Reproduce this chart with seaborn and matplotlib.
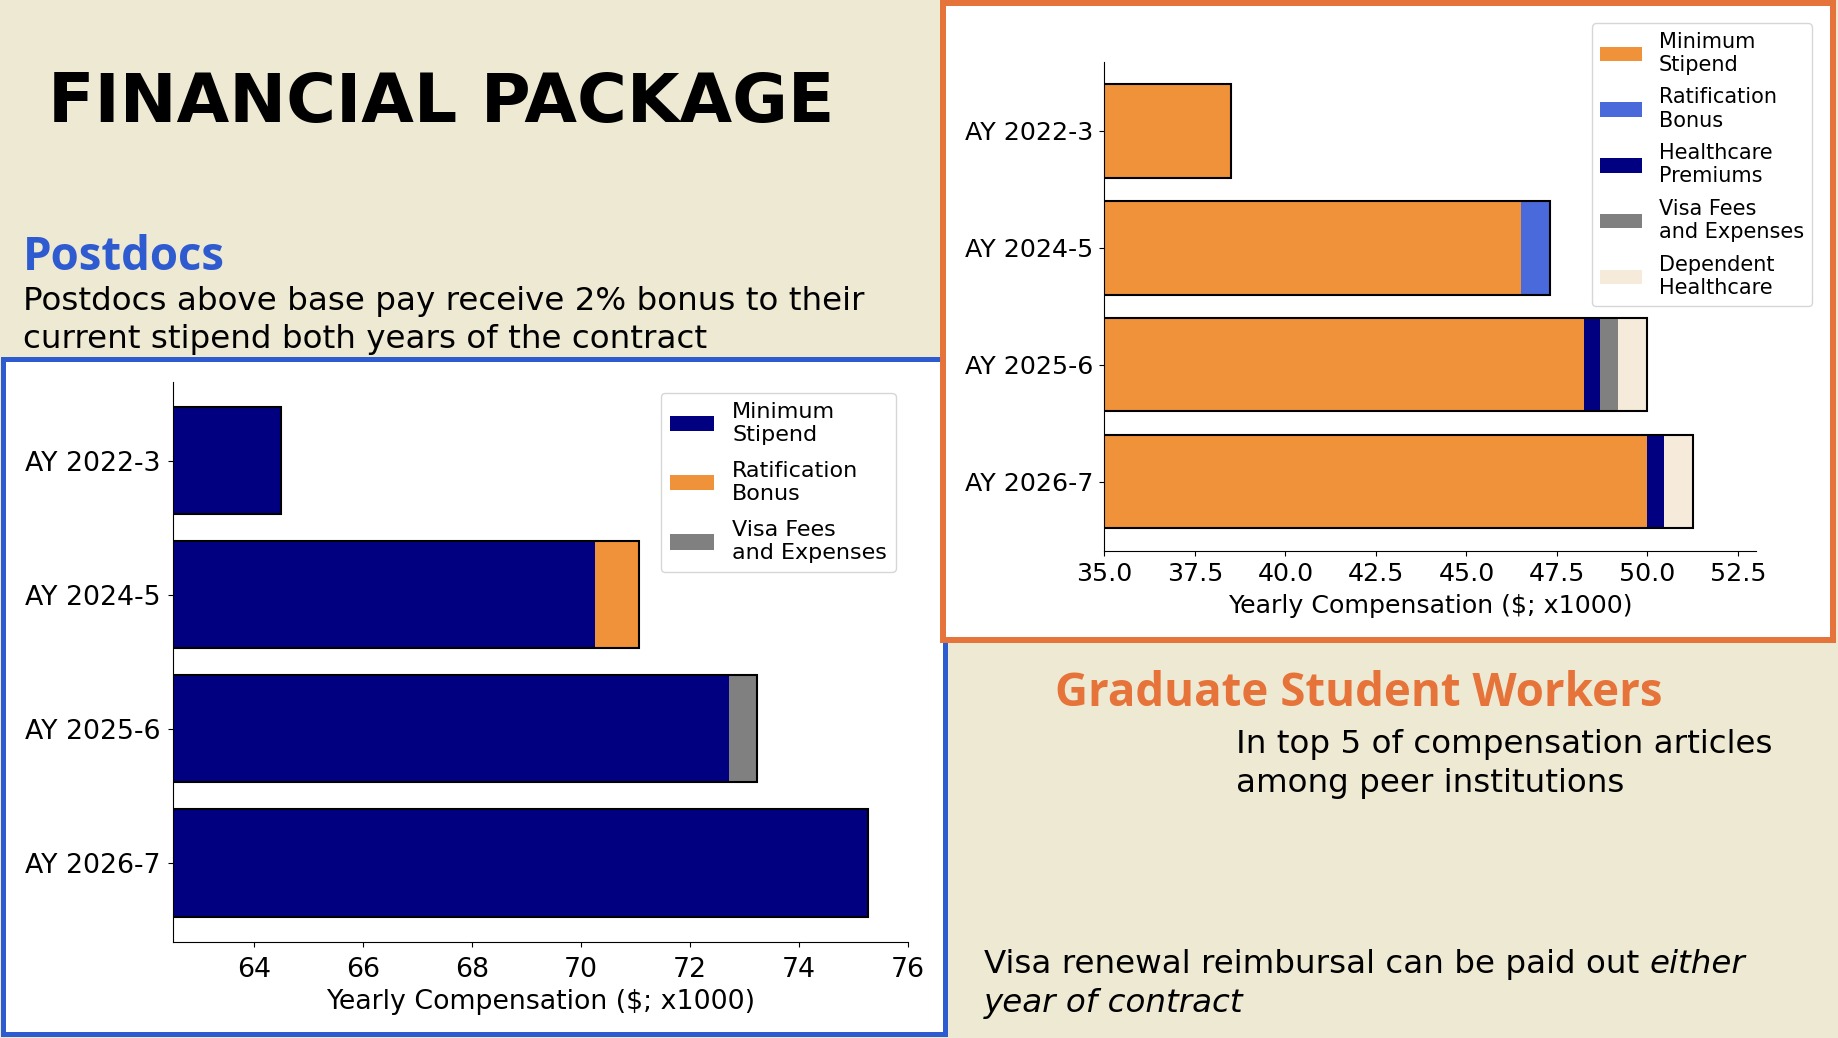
import matplotlib
matplotlib.use('Agg')
import matplotlib.pyplot as plt
from matplotlib.patches import Patch, Rectangle
from matplotlib.ticker import MultipleLocator
import seaborn as sns
import pandas as pd


years = ['AY 2022-3', 'AY 2024-5', 'AY 2025-6', 'AY 2026-7']

# postdocs ($ x1000)
postdoc_labels = ['Minimum\nStipend', 'Ratification\nBonus', 'Visa Fees\nand Expenses']
postdoc_stipend = [64.48, 70.26, 72.72, 75.27]
postdoc_bonus = [0.0, 0.81, 0.0, 0.0]
postdoc_visa = [0.0, 0.0, 0.51, 0.0]

# graduate student workers ($ x1000)
grad_labels = ['Minimum\nStipend', 'Ratification\nBonus', 'Healthcare\nPremiums',
               'Visa Fees\nand Expenses', 'Dependent\nHealthcare']
grad_stipend = [38.5, 46.5, 48.26, 50.0]
grad_bonus = [0.0, 0.82, 0.0, 0.0]
grad_health = [0.0, 0.0, 0.42, 0.45]
grad_visa = [0.0, 0.0, 0.5, 0.0]
grad_dependent = [0.0, 0.0, 0.82, 0.8]

NAVY = '#000080'
ORANGE = '#F0923A'
GRAY = '#808080'
BLUE = '#4A69DA'
CREAM = '#F6EBDA'
BG = '#EEE9D3'
BLUE_EDGE = '#2E5BCF'
ORANGE_EDGE = '#E5733A'

W, H = 1838, 1038


def fx(x):
    return x / W


def fy(y):
    return 1 - y / H


def stacked_bars(ax, parts, labels, colors, tick_fs, legend_fs, anchor, spacing):
    df = pd.DataFrame(dict(zip(labels, parts)), index=years)
    cum = df.cumsum(axis=1)
    # draw the running totals from the longest to the shortest so they stack
    for lab, col in reversed(list(zip(labels, colors))):
        sns.barplot(x=cum[lab].values, y=years, orient='h', color=col, saturation=1,
                    width=0.8, linewidth=0, errorbar=None, ax=ax)
    sns.barplot(x=cum[labels[-1]].values, y=years, orient='h', fill=False, color='black',
                width=0.8, linewidth=1.5, errorbar=None, ax=ax)
    ax.set_ylim(3.59, -0.59)
    ax.set_ylabel('')
    ax.tick_params(labelsize=tick_fs)
    sns.despine(ax=ax)
    handles = [Patch(facecolor=c, linewidth=0, label=l) for l, c in zip(labels, colors)]
    ax.legend(handles=handles, loc='upper right', bbox_to_anchor=anchor, borderaxespad=0,
              fontsize=legend_fs, labelspacing=spacing)


fig = plt.figure(figsize=(W / 100, H / 100), dpi=100, facecolor=BG)
renderer = fig.canvas.get_renderer()


def fitted_size(text, target_px, **kw):
    # font size that makes `text` come out target_px wide
    t = fig.text(0, 0, text, fontsize=20, **kw)
    w = t.get_window_extent(renderer).width
    t.remove()
    return 20 * target_px / w


# slide panels
fig.add_artist(Rectangle((fx(2.5), fy(1033.5)), (944.5 - 2.5) / W, (1033.5 - 358.5) / H,
                         transform=fig.transFigure, facecolor='white', edgecolor=BLUE_EDGE,
                         linewidth=3.6, zorder=-1))
fig.add_artist(Rectangle((fx(943), fy(640)), (1833 - 943) / W, (640 - 3) / H,
                         transform=fig.transFigure, facecolor='white', edgecolor=ORANGE_EDGE,
                         linewidth=4.3, zorder=-0.5))

ax1 = fig.add_axes([0.0940, 0.0925, 0.3998, 0.5399])
stacked_bars(ax1, [postdoc_stipend, postdoc_bonus, postdoc_visa], postdoc_labels,
             [NAVY, ORANGE, GRAY], 19.3, 16, (0.984, 0.980), 0.72)
ax1.set_xlim(62.5, 76)
ax1.xaxis.set_major_locator(MultipleLocator(2))
ax1.tick_params(axis='x', pad=7)
ax1.tick_params(axis='y', pad=5.5)
ax1.set_xlabel('Yearly Compensation ($; x1000)', fontsize=19.3, labelpad=4.5)

ax2 = fig.add_axes([0.6009, 0.4696, 0.3545, 0.4707])
stacked_bars(ax2, [grad_stipend, grad_bonus, grad_health, grad_visa, grad_dependent],
             grad_labels, [ORANGE, BLUE, NAVY, GRAY, CREAM], 18.2, 15, (1.086, 1.079), 0.6)
ax2.set_xlim(35, 53)
ax2.xaxis.set_major_locator(MultipleLocator(2.5))
ax2.tick_params(axis='x', pad=5)
ax2.tick_params(axis='y', pad=4.5)
ax2.set_xlabel('Yearly Compensation ($; x1000)', fontsize=18.2, labelpad=5.5)

body = ['DejaVu Sans']
head = ['Open Sans', 'DejaVu Sans']
fs = fitted_size('Postdocs above base pay receive 2% bonus to their', 839, family=body)
hs = fitted_size('Graduate Student Workers', 607, family=head, fontweight='bold')

fig.text(fx(48), fy(122), 'FINANCIAL PACKAGE', fontsize=49, fontweight='bold',
         family='DejaVu Sans', va='baseline')
fig.text(fx(23), fy(270), 'Postdocs', fontsize=hs, fontweight='bold', color=BLUE_EDGE,
         family=head, va='baseline')
fig.text(fx(23), fy(310), 'Postdocs above base pay receive 2% bonus to their',
         fontsize=fs, family=body, va='baseline')
fig.text(fx(23), fy(348), 'current stipend both years of the contract',
         fontsize=fs, family=body, va='baseline')
fig.text(fx(1055), fy(706), 'Graduate Student Workers', fontsize=hs, fontweight='bold',
         color=ORANGE_EDGE, family=head, va='baseline')
fig.text(fx(1236), fy(753), 'In top 5 of compensation articles', fontsize=fs,
         family=body, va='baseline')
fig.text(fx(1236), fy(792), 'among peer institutions', fontsize=fs,
         family=body, va='baseline')
visa = fig.text(fx(984), fy(973), 'Visa renewal reimbursal can be paid out ', fontsize=fs,
                family=body, va='baseline')
fig.text(fx(984), fy(1012), 'year of contract', fontsize=fs, style='italic',
         family=body, va='baseline')

ext = visa.get_window_extent(renderer)
fig.text(ext.x1 / W, fy(973), 'either', fontsize=fs, style='italic', family=body,
         va='baseline')

fig.savefig('out.png', dpi=100, facecolor=BG)
